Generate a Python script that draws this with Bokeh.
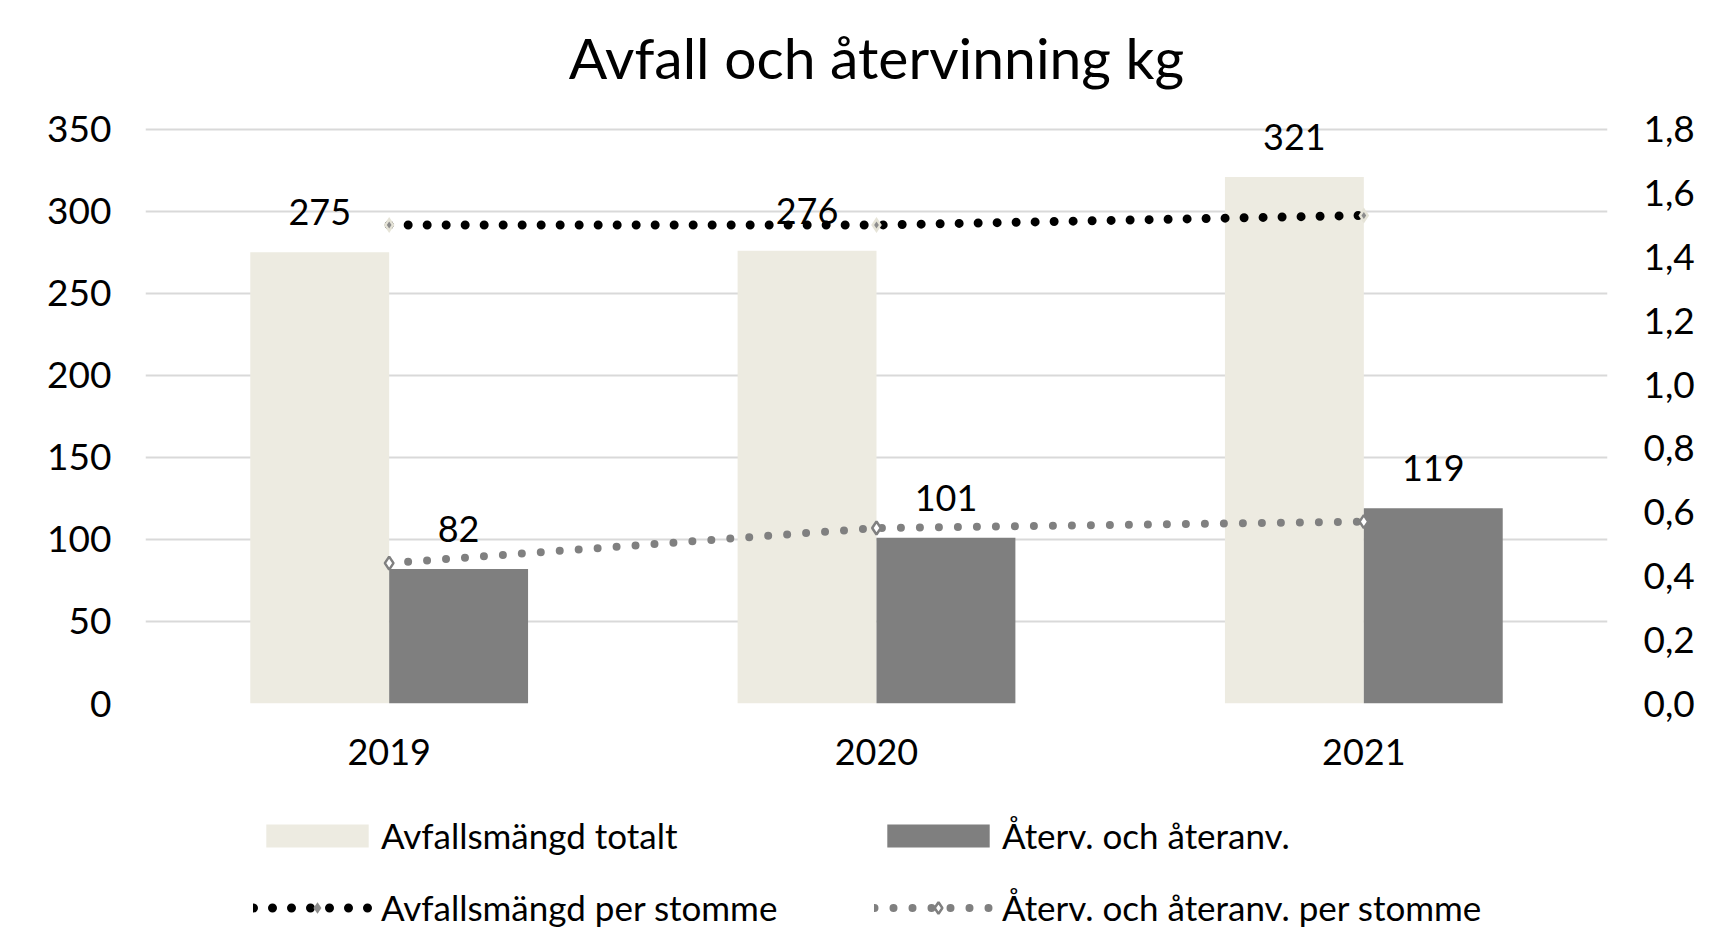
from bokeh.plotting import figure
from bokeh.layouts import column
from bokeh.models import (FactorRange, Range1d, LinearAxis, FixedTicker,
                          CustomJSTickFormatter, ColumnDataSource, Legend,
                          LegendItem, Title)
from bokeh.transform import dodge
from bokeh.embed import file_html
from bokeh.resources import INLINE
from bokeh.core.properties import value

# ---- data ----
years = ["2019", "2020", "2021"]
avfall_totalt = [275, 276, 321]
aterv_ateranv = [82, 101, 119]
avfall_per_stomme = [1.50, 1.50, 1.53]
aterv_per_stomme = [0.44, 0.55, 0.57]
left_ticks = [0, 50, 100, 150, 200, 250, 300, 350]
right_ticks = [0.0, 0.2, 0.4, 0.6, 0.8, 1.0, 1.2, 1.4, 1.6, 1.8]
series_names = ["Avfallsmängd totalt", "Återv. och återanv.",
                "Avfallsmängd per stomme", "Återv. och återanv. per stomme"]
title_text = "Avfall och återvinning kg"

FONT = "Lato"
LIGHT = "#EDEBE1"
DARK = "#7F7F7F"
GREY_LINE = "#808080"
BW = 0.285
YMAX = 370          # a little head-room above the top gridline (350)
RMAX = 1.8 * YMAX / 350

src = ColumnDataSource(dict(
    year=years,
    totalt=avfall_totalt,
    aterv=aterv_ateranv,
    totalt_lbl=[str(v) for v in avfall_totalt],
    aterv_lbl=[str(v) for v in aterv_ateranv],
    per=avfall_per_stomme,
    aterv_per=aterv_per_stomme,
))

W, H1, H2 = 1712, 790, 142


def add_series(fig, yr_line):
    b1 = fig.vbar(x=dodge("year", -BW / 2, range=fig.x_range), top="totalt", width=BW,
                  source=src, fill_color=LIGHT, line_color=None)
    b2 = fig.vbar(x=dodge("year", BW / 2, range=fig.x_range), top="aterv", width=BW,
                  source=src, fill_color=DARK, line_color=None)
    l1 = fig.line(x="year", y="per", source=src, y_range_name=yr_line,
                  line_color="black", line_width=9, line_dash="0 19", line_cap="round")
    m1a = fig.scatter(x="year", y="per", source=src, y_range_name=yr_line,
                      marker="diamond", size=16, fill_color="#E6E4D8", line_color=None)
    m1b = fig.scatter(x="year", y="per", source=src, y_range_name=yr_line,
                      marker="diamond", size=7, fill_color="#8C8C8C", line_color=None)
    l2 = fig.line(x="year", y="aterv_per", source=src, y_range_name=yr_line,
                  line_color=GREY_LINE, line_width=8, line_dash="0 19", line_cap="round")
    m2 = fig.scatter(x="year", y="aterv_per", source=src, y_range_name=yr_line,
                     marker="diamond", size=13, fill_color="white",
                     line_color=GREY_LINE, line_width=2.5)
    return b1, b2, l1, m1a, m1b, l2, m2


# ---------------- chart ----------------
p = figure(x_range=FactorRange(*years), y_range=Range1d(0, YMAX),
           width=W, height=H1, output_backend="svg", toolbar_location=None,
           min_border_left=145, min_border_right=W - 1607, min_border_top=96,
           min_border_bottom=H1 - 703, background_fill_color="white",
           border_fill_color="white", outline_line_color=None)
p.x_range.range_padding = 0
p.extra_y_ranges = {"right": Range1d(0, RMAX)}

add_series(p, "right")

p.text(x=dodge("year", -BW / 2, range=p.x_range), y="totalt", text="totalt_lbl",
       source=src, y_offset=-40, text_align="center", text_baseline="middle",
       text_font=value(FONT), text_font_size="36px", text_color="black")
p.text(x=dodge("year", BW / 2, range=p.x_range), y="aterv", text="aterv_lbl",
       source=src, y_offset=-40, text_align="center", text_baseline="middle",
       text_font=value(FONT), text_font_size="36px", text_color="black")

p.yaxis.ticker = FixedTicker(ticks=left_ticks)
ry = LinearAxis(y_range_name="right", ticker=FixedTicker(ticks=right_ticks),
                formatter=CustomJSTickFormatter(code="return tick.toFixed(1).replace('.', ',');"))
p.add_layout(ry, "right")

for ax in [p.xaxis[0], p.yaxis[0], ry]:
    ax.axis_line_color = None
    ax.major_tick_line_color = None
    ax.minor_tick_line_color = None
    ax.major_tick_out = 0
    ax.major_tick_in = 0
    ax.major_label_text_font = FONT
    ax.major_label_text_font_size = "37px"
    ax.major_label_text_color = "black"
p.xaxis.major_label_text_font_size = "36px"
p.xaxis.major_label_standoff = 35
p.yaxis[0].major_label_standoff = 34
ry.major_label_standoff = 36

p.xgrid.grid_line_color = None
p.ygrid.ticker = FixedTicker(ticks=left_ticks)
p.ygrid.grid_line_color = "#D9D9D9"
p.ygrid.grid_line_width = 2

p.title = Title(text=title_text, align="center", text_font=FONT,
                text_font_size="57px", text_font_style="normal",
                text_color="black", standoff=12)

# ---------------- legend ----------------
lg = figure(x_range=FactorRange(*years), y_range=Range1d(-10, -9),
            width=W, height=H2, output_backend="svg", toolbar_location=None,
            min_border=0, x_axis_location=None, y_axis_location=None,
            background_fill_color="white", border_fill_color="white",
            outline_line_color=None)
lg.extra_y_ranges = {"right": Range1d(-10, -9)}
lg.grid.grid_line_color = None
lrs = add_series(lg, "right")
for r in lrs:
    r.visible = False
lb1, lb2, ll1, lm1a, lm1b, ll2, lm2 = lrs

legend = Legend(items=[
    LegendItem(label=series_names[0], renderers=[lb1]),
    LegendItem(label=series_names[1], renderers=[lb2]),
    LegendItem(label=series_names[2], renderers=[ll1, lm1a, lm1b]),
    LegendItem(label=series_names[3], renderers=[ll2, lm2]),
], location=(108, 4), orientation="horizontal", ncols=2,
    glyph_width=128, glyph_height=29, label_standoff=0, label_width=463,
    label_height=40, spacing=30, padding=0, margin=0,
    border_line_color=None, background_fill_alpha=0, inactive_fill_alpha=0,
    label_text_font=FONT, label_text_font_size="35px", label_text_color="black")
lg.add_layout(legend)

layout = column(p, lg, spacing=0)
open("out.html", "w").write(file_html(layout, INLINE))
